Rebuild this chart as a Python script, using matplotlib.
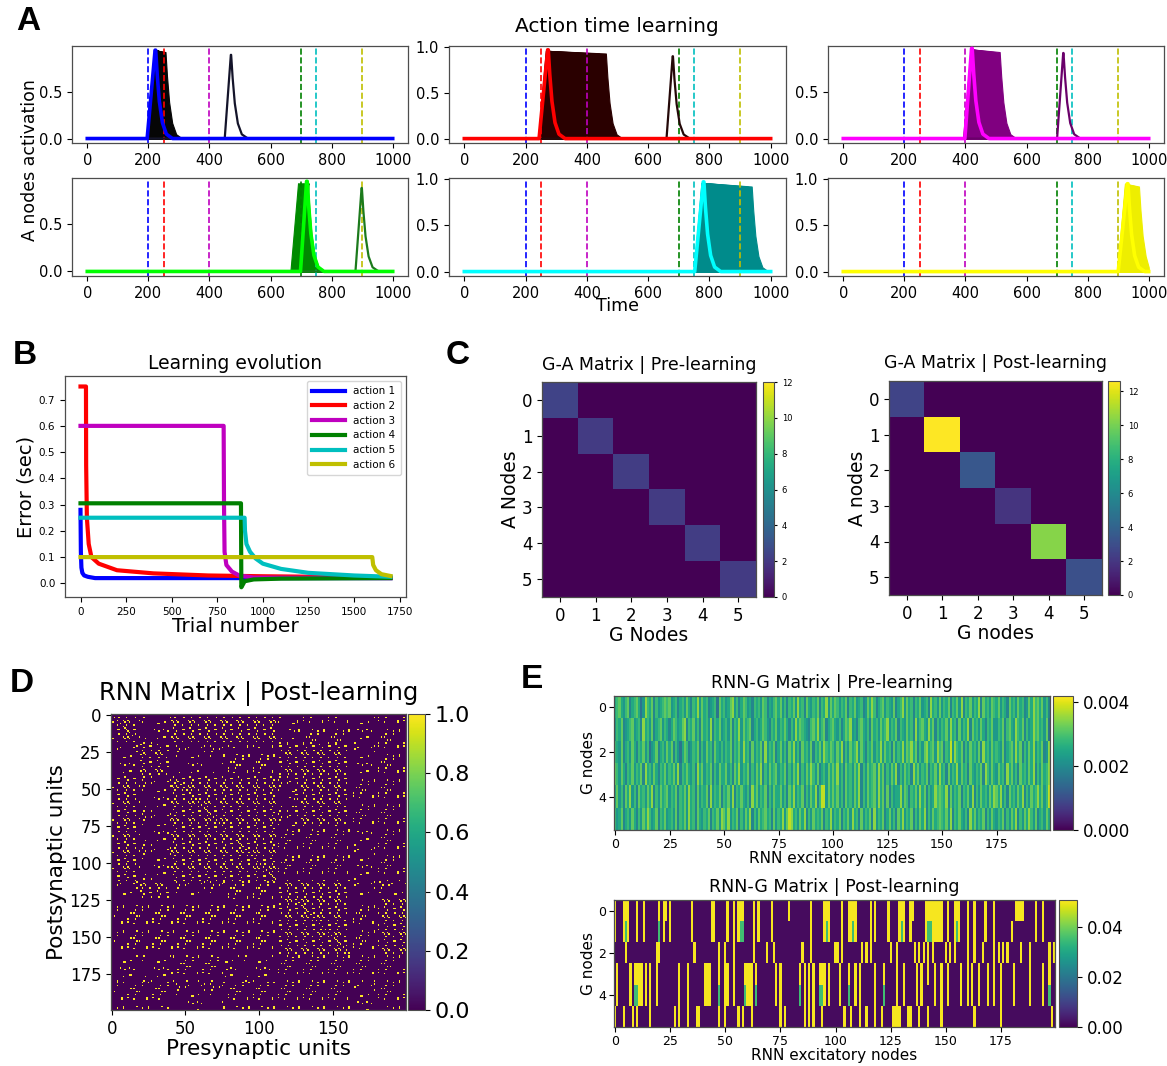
import numpy as np
import matplotlib
matplotlib.use("Agg")
import matplotlib.pyplot as plt

W, H = 1167, 1066

# ---------------- A: activation of the action nodes ----------------
target_times = [200, 250, 400, 700, 750, 900]
vline_colors = ["b", "r", "m", "g", "c", "y"]
final_colors = ["#0000ff", "#ff0000", "#ff00ff", "#00ff00", "#00ffff", "#ffff00"]
fan_colors = ["#060606", "#2a0000", "#800080", "#008a00", "#008b8b", "#eeee00"]
spike_colors = ["#14142a", "#240808", "#6a006a", "#1c7a1c", None, None]

# first (untrained) response of each action node
spike_onset = [450, 660, 700, 878, None, None]
spike_peak_t = [470, 680, 720, 898, None, None]
spike_peak = [0.90, 0.90, 0.92, 0.88, None, None]

# learning trials: onset and plateau end of the traces
fan_onsets = [
    [195, 197, 199, 201, 203, 205, 207],
    [241, 242, 243, 244, 245, 246, 247, 248, 249, 250],
    [392, 393, 394, 395, 396, 397, 398],
    [665, 670, 675, 680, 685, 690, 695, 700],
    [749, 750, 751, 752, 753, 754, 755, 756],
    [897, 898, 899, 900],
]
fan_ends = [
    [256, 252, 247, 243, 238, 233, 228],
    [462, 440, 415, 390, 365, 340, 315, 300, 290, 282],
    [512, 497, 482, 467, 452, 440, 430],
    [700, 705, 710, 712, 715, 718, 720, 722],
    [938, 925, 910, 890, 870, 850, 830, 810],
    [968, 962, 955, 948],
]
fan_peak = [0.95, 0.96, 0.96, 0.93, 0.96, 0.95]
fan_plateau = [0.93, 0.93, 0.93, 0.92, 0.92, 0.92]

# trained response
final_onset = [196, 244, 398, 698, 752, 900]
final_peak_t = [222, 272, 420, 718, 780, 930]
final_peak = [0.95, 0.97, 0.97, 0.95, 0.97, 0.95]

decay_dt = [0, 5, 12, 22, 35, 55]
decay_frac = [1.0, 0.72, 0.42, 0.18, 0.05, 0.0]

# ---------------- B: learning evolution ----------------
err_x = [
    [0, 2, 5, 10, 20, 40, 80, 200, 1700],
    [0, 30, 31, 35, 45, 60, 100, 200, 400, 700, 1000, 1300, 1700],
    [0, 785, 787, 790, 800, 830, 870, 950, 1700],
    [0, 880, 882, 890, 900, 950, 1100, 1700],
    [0, 900, 902, 910, 930, 960, 1000, 1100, 1250, 1500, 1700],
    [0, 1600, 1605, 1620, 1650, 1700],
]
err_y = [
    [0.28, 0.12, 0.06, 0.04, 0.03, 0.025, 0.02, 0.02, 0.02],
    [0.75, 0.75, 0.45, 0.25, 0.15, 0.10, 0.075, 0.05, 0.038, 0.03, 0.027, 0.025, 0.022],
    [0.60, 0.60, 0.30, 0.12, 0.07, 0.045, 0.03, 0.022, 0.02],
    [0.305, 0.305, -0.015, -0.005, 0.008, 0.015, 0.018, 0.02],
    [0.25, 0.25, 0.20, 0.15, 0.12, 0.095, 0.075, 0.055, 0.04, 0.03, 0.025],
    [0.10, 0.10, 0.07, 0.05, 0.035, 0.028],
]
action_labels = ["action 1", "action 2", "action 3", "action 4", "action 5", "action 6"]

# ---------------- C: G-A matrices ----------------
ga_pre_diag = [2.4, 2.1, 2.2, 2.1, 2.2, 2.1]
ga_post_diag = [2.6, 12.6, 3.4, 1.9, 10.3, 3.1]

# ---------------- D: RNN matrix ----------------
# unit bands and how dense the connections between them look (1 sparse .. 3 dense)
rnn_bounds = [0, 20, 41, 76, 113, 125, 162, 181, 200]
rnn_density = [
    [3, 1, 3, 3, 1, 2, 1, 2],
    [1, 3, 1, 2, 3, 3, 1, 2],
    [3, 1, 3, 3, 1, 3, 2, 2],
    [3, 1, 3, 3, 2, 2, 1, 2],
    [1, 3, 1, 2, 3, 3, 1, 1],
    [2, 2, 2, 2, 3, 3, 2, 3],
    [1, 1, 2, 1, 2, 2, 2, 2],
    [2, 2, 1, 2, 2, 2, 1, 2],
]
rnn_period = {1: 23, 2: 17, 3: 11}
rnn_diag = [(0, 16), (45, 76), (85, 113), (125, 162)]

# ---------------- E: RNN-G matrices ----------------
# pre-learning, one digit per unit (0 = low ... 9 = high)
pre_rows = [
    "5675467356752486573645676" "7456356475365847563456275" "6457846357645365647635467" "5746365748563754657365847"
    "5764657365745634758635674" "6547356847563657456385647" "4657365748365746583756476" "5746537564756347586757463",
    "4657345674563856473567465" "3576457836574637564836574" "5647365847567356457643657" "4657536485765436758467356"
    "7546357684536754637564756" "8465736547563846754857364" "6574856374658375647536574" "4657367548657364586756472",
    "6547356475365746245735647" "5736425763465736475637546" "4657365748563746573846573" "5746375846375647365748657"
    "6475836475684753657465847" "5637465847685736478567486" "7365948657364756473856475" "6547356748573647584657348",
    "7647536574657385647536574" "6574836575463857465736475" "5746375846573647583647567" "4657364758364758647356475"
    "7584637564758364756748573" "6475836475638574657365748" "5637465847563754657386475" "4756385746375647583647568",
    "5746375846375647583647567" "4657365748563746573846573" "6574836575463857465736475" "5746375846573647583699475"
    "7574637564758364756748573" "7364558476365748573645867" "6583746573657483647564758" "7584637564758364756857469",
    "6457356475364758645736574" "5647365748563754657365748" "7584657364758364756756374" "6584798564758364756573658"
    "4657365748563746573846573" "5746375846573647583647567" "6574836575463857465736475" "4657364758364758647356475",
]
post_yellow = [
    [0, 4, 5, 6, 10, 13, 20, 22, 23, 25, 35, 44, 45, 51, 54, 56, 57, 58, 63, 65, 71, 79, 89, 95, 96, 97,
     103, 106, 107, 108, 109, 116, 118, 124, 129, 130, 131, 134, 135, 141, 142, 143, 144, 145, 146, 147,
     148, 151, 154, 155, 156, 160, 163, 168, 172, 182, 183, 184, 185, 191, 194],
    [0, 4, 6, 10, 13, 22, 25, 35, 44, 45, 51, 54, 56, 63, 65, 71, 89, 95, 97, 103, 106, 107, 109, 116,
     118, 124, 129, 131, 134, 141, 144, 145, 146, 147, 148, 151, 154, 156, 160, 163, 168, 172, 180, 191, 194],
    [5, 19, 20, 36, 47, 50, 54, 63, 69, 72, 85, 89, 100, 101, 103, 112, 114, 116, 125, 128, 136, 138, 140,
     142, 144, 150, 152, 154, 160, 163, 167, 172, 174, 176, 178, 184, 188, 197, 199],
    [1, 7, 9, 10, 11, 12, 14, 16, 19, 29, 33, 41, 42, 43, 47, 50, 51, 54, 59, 60, 61, 62, 64, 73, 75, 84, 86,
     88, 90, 93, 94, 95, 97, 102, 106, 109, 111, 118, 122, 128, 131, 137, 139, 142, 145, 148, 151, 157, 160,
     162, 165, 169, 172, 175, 181, 188, 194, 197],
    [1, 7, 11, 12, 14, 16, 19, 29, 33, 41, 42, 43, 50, 51, 54, 60, 61, 62, 73, 75, 86, 88, 90, 95, 97, 102,
     109, 111, 118, 128, 131, 137, 139, 145, 148, 151, 157, 160, 162, 165, 169, 172, 175, 181, 188, 194],
    [0, 4, 8, 10, 16, 27, 29, 33, 37, 38, 47, 50, 56, 58, 62, 75, 77, 86, 88, 90, 94, 104, 107, 111, 114,
     118, 121, 126, 127, 128, 129, 133, 134, 138, 142, 148, 163, 175, 198],
]
post_green = [
    [],
    [5, 20, 57, 58, 96, 108, 130, 142, 143, 155],
    [],
    [],
    [9, 10, 47, 59, 64, 84, 93, 94, 106, 122, 197],
    [],
]

fig = plt.figure(figsize=(W / 100, H / 100), dpi=100)


def box(x0, y0, x1, y1):
    return fig.add_axes([x0 / W, 1 - y1 / H, (x1 - x0) / W, (y1 - y0) / H])


def style(ax):
    for s in ax.spines.values():
        s.set_color("0.3")
        s.set_linewidth(0.9)


def trace(onset, peak_t, peak, plat_end, plat):
    tx = [0, onset, peak_t, plat_end] + [plat_end + d for d in decay_dt[1:]] + [1000]
    ty = [0, 0, peak, plat] + [plat * f for f in decay_frac[1:]] + [0]
    return np.minimum(tx, 1000), np.array(ty)


# ---- panel A ----
a_cols = [(72, 408), (449, 786), (828, 1164)]
a_rows = [(46, 143), (178, 276)]
a_ytop = [0.995, 1.012, 0.995, 0.985, 1.012, 1.012]
for k in range(6):
    r, c = divmod(k, 3)
    ax = box(a_cols[c][0], a_rows[r][0], a_cols[c][1], a_rows[r][1])
    for on, end in sorted(zip(fan_onsets[k], fan_ends[k]), key=lambda p: -p[1]):
        tx, ty = trace(on, on + 25, fan_peak[k], end, fan_plateau[k])
        ax.fill_between(tx, ty, 0, color=fan_colors[k], lw=0.8, zorder=2)
    for t, vc in zip(target_times, vline_colors):
        ax.axvline(t, color=vc, ls="--", lw=1.2, zorder=2.5)
    if spike_onset[k] is not None:
        tx, ty = trace(spike_onset[k], spike_peak_t[k], spike_peak[k], spike_peak_t[k] + 1, spike_peak[k])
        ax.plot(tx, ty, color=spike_colors[k], lw=1.6, zorder=3)
    tx, ty = trace(final_onset[k], final_peak_t[k], final_peak[k], final_peak_t[k] + 2, final_peak[k])
    ax.plot(tx, ty, color=final_colors[k], lw=2.6, zorder=4)
    ax.set_xticks([0, 200, 400, 600, 800, 1000])
    ax.set_yticks([t for t in (0.0, 0.5, 1.0) if t <= a_ytop[k]])
    ax.set_xlim(-50, 1050)
    ax.set_ylim(-0.048, a_ytop[k])
    ax.tick_params(labelsize=10.5)
    style(ax)

fig.text(617 / W, 1 - 27 / H, "Action time learning", fontsize=14.5, ha="center", va="center")
fig.text(30 / W, 1 - 160 / H, "A nodes activation", fontsize=12.5, rotation=90, ha="center", va="center")
fig.text(617 / W, 1 - 306 / H, "Time", fontsize=12.5, ha="center", va="center")

# ---- panel B ----
axb = box(65, 376, 406, 597)
b_colors = ["b", "r", "m", "g", "c", "y"]
for xs, ys, col, lab in zip(err_x, err_y, b_colors, action_labels):
    axb.plot(xs, ys, color=col, lw=3, label=lab)
axb.set_xticks([0, 250, 500, 750, 1000, 1250, 1500, 1750])
axb.set_yticks([0.0, 0.1, 0.2, 0.3, 0.4, 0.5, 0.6, 0.7])
axb.tick_params(labelsize=7.5)
axb.set_xlim(-85, 1785)
axb.set_ylim(-0.052, 0.79)
axb.set_title("Learning evolution", fontsize=13.5, pad=5)
axb.set_xlabel("Trial number", fontsize=14.5, labelpad=0)
axb.set_ylabel("Error (sec)", fontsize=14, labelpad=2)
axb.legend(loc="upper right", fontsize=7.5, handlelength=3.2, borderpad=0.5, labelspacing=0.45)
style(axb)

# ---- panel C ----
c_specs = [
    ((542, 382, 756, 597), (763, 382, 774, 597), np.diag(ga_pre_diag), 12.0,
     "G-A Matrix | Pre-learning", "G Nodes", "A Nodes"),
    ((889, 381, 1102, 595), (1108, 381, 1120, 595), np.diag(ga_post_diag), max(ga_post_diag),
     "G-A Matrix | Post-learning", "G nodes", "A nodes"),
]
for rect, crect, mat, vmax, title, xl, yl in c_specs:
    ax = box(*rect)
    im = ax.imshow(mat, cmap="viridis", vmin=0, vmax=vmax, aspect="auto", interpolation="nearest")
    ax.set_xticks(range(6))
    ax.set_yticks(range(6))
    ax.tick_params(labelsize=12)
    ax.set_title(title, fontsize=12.5, pad=9)
    ax.set_xlabel(xl, fontsize=13.5, labelpad=1)
    ax.set_ylabel(yl, fontsize=13.5, labelpad=1)
    style(ax)
    cax = box(*crect)
    cb = fig.colorbar(im, cax=cax, ticks=[0, 2, 4, 6, 8, 10, 12])
    cax.tick_params(labelsize=6, length=2)
    cb.outline.set_edgecolor("0.3")

# ---- panel D ----
ii, jj = np.meshgrid(np.arange(200), np.arange(200), indexing="ij")
spread = ii * ii + 3 * jj * jj + 5 * ii * jj + 7 * ii + 11 * jj
rnn = np.zeros((200, 200))
for a in range(8):
    for b in range(8):
        blk = (slice(rnn_bounds[a], rnn_bounds[a + 1]), slice(rnn_bounds[b], rnn_bounds[b + 1]))
        rnn[blk] = spread[blk] % rnn_period[rnn_density[a][b]] == 0
for lo, hi in rnn_diag:
    k = np.arange(lo, hi, 2)
    rnn[k, k] = 1.0

axd = box(111, 714, 406, 1010)
im = axd.imshow(rnn, cmap="viridis", vmin=0, vmax=1, aspect="auto", interpolation="nearest")
axd.set_xticks([0, 50, 100, 150])
axd.set_yticks([0, 25, 50, 75, 100, 125, 150, 175])
axd.tick_params(labelsize=12)
axd.set_title("RNN Matrix | Post-learning", fontsize=17.5, pad=10)
axd.set_xlabel("Presynaptic units", fontsize=15.5, labelpad=1)
axd.set_ylabel("Postsynaptic units", fontsize=15.5, labelpad=2)
style(axd)
cax = box(408, 714, 425, 1010)
cb = fig.colorbar(im, cax=cax, ticks=[0, 0.2, 0.4, 0.6, 0.8, 1.0])
cax.tick_params(labelsize=16)
cb.outline.set_edgecolor("0.3")

# ---- panel E ----
rnn_g_pre = np.array([[0.0010 + 0.00031 * int(ch) for ch in row[:200]] for row in pre_rows])
rnn_g_post = np.full((6, 200), 0.0015)
for r in range(6):
    rnn_g_post[r, post_yellow[r]] = 0.05
    rnn_g_post[r, post_green[r]] = 0.035

e_specs = [
    ((614, 696, 1050, 830), (1053, 696, 1073, 830), rnn_g_pre, 0.0042, [0, 0.002, 0.004],
     "{:.3f}", "RNN-G Matrix | Pre-learning"),
    ((614, 900, 1055, 1027), (1059, 900, 1077, 1027), rnn_g_post, 0.0506, [0, 0.02, 0.04],
     "{:.2f}", "RNN-G Matrix | Post-learning"),
]
for rect, crect, mat, vmax, cticks, fmt, title in e_specs:
    ax = box(*rect)
    im = ax.imshow(mat, cmap="viridis", vmin=0, vmax=vmax, aspect="auto", interpolation="nearest")
    ax.set_xticks([0, 25, 50, 75, 100, 125, 150, 175])
    ax.set_yticks([0, 2, 4])
    ax.tick_params(labelsize=9, pad=2)
    ax.set_title(title, fontsize=12.5, pad=6)
    ax.set_xlabel("RNN excitatory nodes", fontsize=11, labelpad=0)
    ax.set_ylabel("G nodes", fontsize=11, labelpad=2)
    style(ax)
    cax = box(*crect)
    cb = fig.colorbar(im, cax=cax, ticks=cticks)
    cb.set_ticklabels([fmt.format(t) for t in cticks])
    cax.tick_params(labelsize=12)
    cb.outline.set_edgecolor("0.3")

# panel letters
for lab, x, y in [("A", 28, 22), ("B", 25, 355), ("C", 458, 355), ("D", 22, 684), ("E", 532, 680)]:
    fig.text(x / W, 1 - y / H, lab, fontsize=24, fontweight="bold", family="Liberation Sans",
             ha="center", va="center")

fig.savefig("out.png", dpi=100)
